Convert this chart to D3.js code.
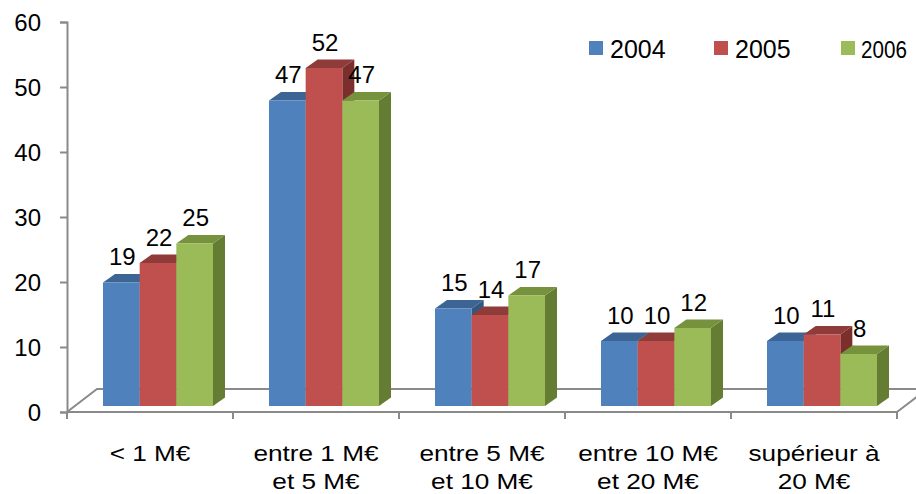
<!DOCTYPE html>
<html>
<head>
<meta charset="utf-8">
<script src="https://cdn.jsdelivr.net/npm/d3@7/dist/d3.min.js"></script>
<style>
  html, body { margin: 0; padding: 0; background: #fff; }
  svg { display: block; font-family: "Liberation Sans", Arial, sans-serif; }
</style>
</head>
<body>
<svg id="chart" width="916" height="494"></svg>
<script>
// Chart data
const categories = [["< 1 M€"], ["entre 1 M€", "et 5 M€"], ["entre 5 M€", "et 10 M€"], ["entre 10 M€", "et 20 M€"], ["supérieur à", "20 M€"]];
const series = ["2004", "2005", "2006"];
const values2004 = [19, 47, 15, 10, 10];
const values2005 = [22, 52, 14, 10, 11];
const values2006 = [25, 47, 17, 12, 8];
const yTicks = [0, 10, 20, 30, 40, 50, 60];

const seriesValues = [values2004, values2005, values2006];
// front / top / side shades per series
const shades = [
  { front: "#4F81BD", top: "#3C6595", side: "#34577F" },
  { front: "#C0504D", top: "#8F3B39", side: "#7A2F2D" },
  { front: "#9BBB59", top: "#76923C", side: "#647D33" }
];

const svg = d3.select("#chart");
const catKeys = categories.map(c => c.join(" "));

// Front plane scales
const y = d3.scaleLinear().domain([0, 60]).range([412, 22]);
const x0 = d3.scaleBand().domain(catKeys).range([67, 897]).paddingInner(0).paddingOuter(0);
const groupW = 110;
const x1 = d3.scaleBand().domain(series).range([0, groupW]);

// 3D depth offsets
const floorDx = 30, floorDy = -23;   // floor depth
const barOx = 8, barOy = -6;         // bar placement inside floor depth
const barDx = 12, barDy = -8.5;      // bar depth

const axisColor = "#8a8a8a";

// Floor
const y0 = y(0);
const floor = svg.append("g").attr("fill", "none").attr("stroke", axisColor).attr("stroke-width", 2);
floor.append("path").attr("d", `M${67},${y0} L${67 + floorDx},${y0 + floorDy} L${940},${y0 + floorDy}`);
floor.append("path").attr("d", `M${897},${y0} L${897 + floorDx},${y0 + floorDy}`);
floor.append("line").attr("x1", 67).attr("x2", 897).attr("y1", y0).attr("y2", y0);

// Category tick marks
const catBounds = catKeys.map(k => x0(k)).concat([x0.range()[1]]);
floor.selectAll(".ctick").data(catBounds).join("line")
  .attr("x1", d => d).attr("x2", d => d)
  .attr("y1", y0).attr("y2", y0 + 7);

// Y axis
const yAxis = d3.axisLeft(y).tickValues(yTicks).tickSize(7).tickPadding(19);
const gy = svg.append("g").attr("transform", "translate(67,0)").call(yAxis);
gy.select(".domain").attr("stroke", axisColor).attr("stroke-width", 2);
gy.selectAll(".tick line").attr("stroke", axisColor).attr("stroke-width", 2);
gy.selectAll(".tick text")
  .attr("fill", "#000")
  .attr("font-size", 24)
  .attr("font-family", "Liberation Sans, Arial, sans-serif")
  .attr("dy", "0.34em");

// Bars
const bars = svg.append("g");
const labels = [];
catKeys.forEach((cat, ci) => {
  const gx = x0(cat) + (x0.bandwidth() - groupW) / 2 + barOx;
  series.forEach((s, si) => {
    const v = seriesValues[si][ci];
    const xl = gx + x1(s);
    const xr = xl + x1.bandwidth();
    const yb = y(0) + barOy;
    const yt = y(v) + barOy;
    const sh = shades[si];
    const g = bars.append("g");
    // side face
    g.append("path")
      .attr("d", `M${xr},${yb} L${xr + barDx},${yb + barDy} L${xr + barDx},${yt + barDy} L${xr},${yt} Z`)
      .attr("fill", sh.side);
    // top face
    g.append("path")
      .attr("d", `M${xl},${yt} L${xl + barDx},${yt + barDy} L${xr + barDx},${yt + barDy} L${xr},${yt} Z`)
      .attr("fill", sh.top);
    // front face
    g.append("rect")
      .attr("x", xl).attr("y", yt)
      .attr("width", xr - xl).attr("height", yb - yt)
      .attr("fill", sh.front);
    labels.push({ x: (xl + xr) / 2 + 1, y: yt + barDy - 9, v });
  });
});

// Value labels
svg.append("g").selectAll("text").data(labels).join("text")
  .attr("x", d => d.x).attr("y", d => d.y)
  .attr("text-anchor", "middle")
  .attr("font-size", 24)
  .attr("fill", "#000")
  .text(d => d.v);

// Category labels
const catG = svg.append("g");
categories.forEach((lines, ci) => {
  const cx = x0(catKeys[ci]) + x0.bandwidth() / 2;
  lines.forEach((ln, li) => {
    catG.append("text")
      .attr("transform", `translate(${cx},${461 + li * 28}) scale(1.19,1)`)
      .attr("text-anchor", "middle")
      .attr("font-size", 22)
      .attr("fill", "#000")
      .text(ln);
  });
});

// Legend (last entry is condensed to fit the right edge)
const legendX = [589, 714, 841];
const legendSqueeze = [1, 1, 0.86];
const legend = svg.append("g");
series.forEach((s, i) => {
  legend.append("rect")
    .attr("x", legendX[i]).attr("y", 41)
    .attr("width", 14).attr("height", 14)
    .attr("fill", shades[i].front);
  legend.append("text")
    .attr("transform", `translate(${legendX[i] + (i === 2 ? 20 : 21)},58) scale(${legendSqueeze[i]},1)`)
    .attr("font-size", i === 2 ? 24 : 25)
    .attr("fill", "#000")
    .text(s);
});
</script>
</body>
</html>
